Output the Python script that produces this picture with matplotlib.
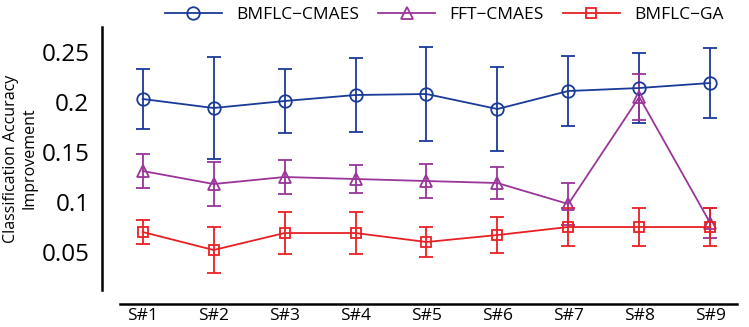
import matplotlib.pyplot as plt
from matplotlib.lines import Line2D
import numpy as np

subjects = ["S#1", "S#2", "S#3", "S#4", "S#5", "S#6", "S#7", "S#8", "S#9"]

# BMFLC-CMAES
bc_mean = [0.203, 0.194, 0.201, 0.207, 0.208, 0.193, 0.211, 0.214, 0.219]
bc_err = [0.030, 0.051, 0.032, 0.037, 0.047, 0.042, 0.035, 0.035, 0.035]
# FFT-CMAES
fc_mean = [0.131, 0.118, 0.125, 0.123, 0.121, 0.119, 0.098, 0.205, 0.079]
fc_err = [0.017, 0.022, 0.017, 0.014, 0.017, 0.016, 0.021, 0.023, 0.015]
# BMFLC-GA
bg_mean = [0.070, 0.052, 0.069, 0.069, 0.060, 0.067, 0.075, 0.075, 0.075]
bg_err = [0.012, 0.023, 0.021, 0.021, 0.015, 0.018, 0.019, 0.019, 0.019]

BLUE = "#1a3a98"
PURPLE = "#9a3599"
RED = "#e82024"

plt.rcParams["font.family"] = ["Open Sans", "DejaVu Sans"]

fig = plt.figure(figsize=(7.49, 3.27), dpi=100)
ax = fig.add_axes([0.1602, 0.1131, 0.824, 0.8043])

x = np.arange(1, len(subjects) + 1)
common = dict(capsize=5, linewidth=1.3, elinewidth=1.3, capthick=1.3,
              markerfacecolor="none", markeredgewidth=1.3)
series = [
    (bc_mean, bc_err, BLUE, "o", 9, "BMFLC\u2212CMAES"),
    (fc_mean, fc_err, PURPLE, "^", 9, "FFT\u2212CMAES"),
    (bg_mean, bg_err, RED, "s", 7, "BMFLC\u2212GA"),
]
handles = []
for mean, err, col, mk, ms, lab in series:
    ax.errorbar(x, mean, yerr=err, color=col, marker=mk, markersize=ms, **common)
    handles.append(Line2D([0], [0], color=col, marker=mk, markersize=ms,
                          linewidth=1.3, markerfacecolor="none",
                          markeredgewidth=1.3, label=lab))

ax.set_xlim(0.68, 9.38)
ax.set_ylim(0.012, 0.275)
ax.set_xticks(x, subjects)
ax.set_yticks([0.05, 0.1, 0.15, 0.2, 0.25], ["0.05", "0.1", "0.15", "0.2", "0.25"])
ax.tick_params(axis="x", length=0, pad=3, labelsize=12.5)
ax.tick_params(axis="y", length=0, pad=9, labelsize=17.5)

for s in ["top", "right"]:
    ax.spines[s].set_visible(False)
ax.spines["left"].set_position(("outward", 13))
ax.spines["bottom"].set_position(("outward", 10))
ax.spines["left"].set_linewidth(1.8)
ax.spines["bottom"].set_linewidth(1.8)

ax.set_ylabel("Classification Accuracy\nImprovement", fontsize=11.5, labelpad=3)

ax.legend(handles=handles, loc="lower center", bbox_to_anchor=(0.525, 0.99),
          ncol=3, frameon=False, fontsize=12.5, handlelength=3.3,
          columnspacing=1.1, handletextpad=0.8, borderaxespad=0.0)

fig.savefig("out.png", dpi=100)
